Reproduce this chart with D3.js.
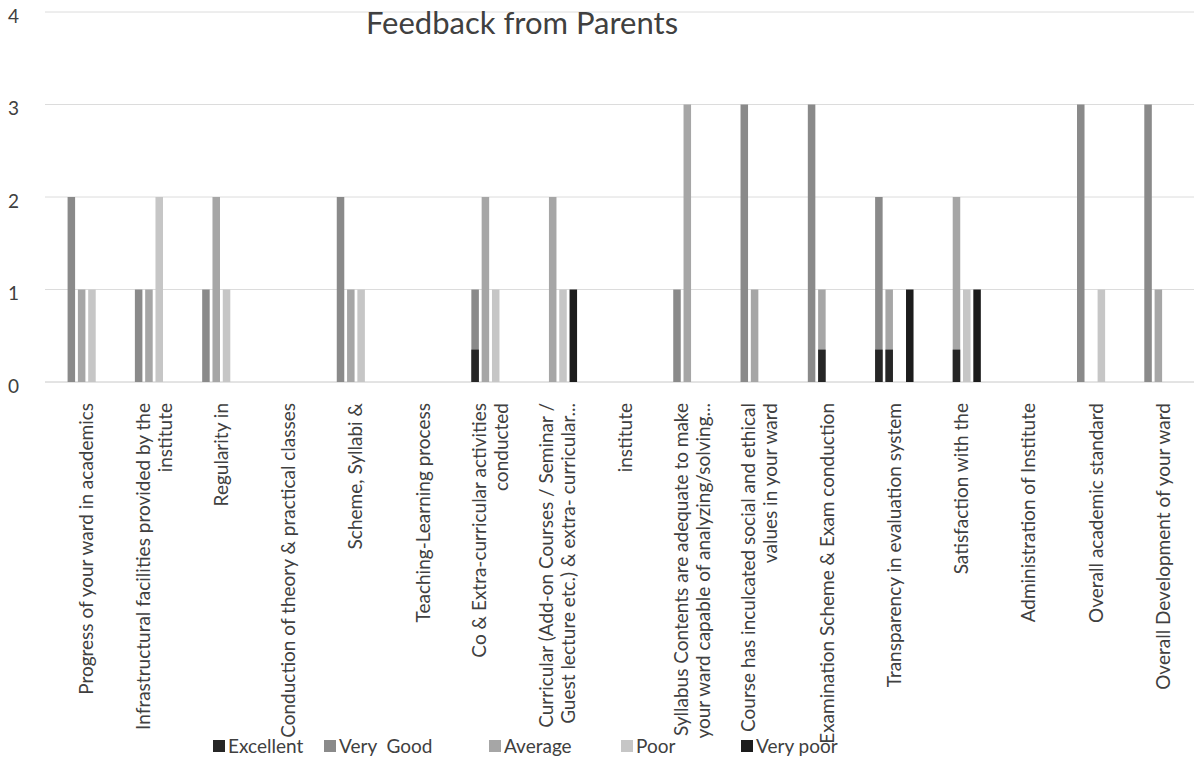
<!DOCTYPE html>
<html>
<head>
<meta charset="utf-8">
<script src="https://cdn.jsdelivr.net/npm/d3@7"></script>
<style>
  html, body { margin: 0; padding: 0; background: #fff; }
  svg { display: block; font-family: Lato, "Noto Sans", sans-serif; }
</style>
</head>
<body>
<svg id="chart" width="1194" height="763"></svg>
<script>
// ---- data ----
const title = "Feedback from Parents";
const categories = [
  ["Progress of your ward in academics"],
  ["Infrastructural facilities provided by the", "institute"],
  ["Regularity in"],
  ["Conduction of theory & practical classes"],
  ["Scheme, Syllabi &"],
  ["Teaching-Learning process"],
  ["Co & Extra-curricular activities", "conducted"],
  ["Curricular (Add-on Courses / Seminar /", "Guest lecture etc.) & extra- curricular..."],
  ["institute"],
  ["Syllabus Contents are adequate to make", "your ward capable of analyzing/solving..."],
  ["Course has inculcated social and ethical", "values in your ward"],
  ["Examination Scheme & Exam conduction"],
  ["Transparency in evaluation system"],
  ["Satisfaction with the"],
  ["Administration of Institute"],
  ["Overall academic standard"],
  ["Overall Development of your ward"]
];
const seriesNames = ["Excellent", "Very  Good", "Average", "Poor", "Very poor"];
const excellent = [0,0,0,0,0,0,0,0,0,0,0,0,0,0,0,0,0];
const veryGood  = [2,1,1,0,2,0,1,0,0,1,3,3,2,0,0,3,3];
const average   = [1,1,2,0,1,0,2,2,0,3,1,1,1,2,0,0,1];
const poor      = [1,2,1,0,1,0,1,1,0,0,0,0,0,1,0,1,0];
const veryPoor  = [0,0,0,0,0,0,0,1,0,0,0,0,1,1,0,0,0];
// dark (Excellent-coloured) segments printed at the foot of some bars
const excellentOverVeryGood = [0,0,0,0,0,0,0.35,0,0,0,0,0,0.35,0,0,0,0];
const excellentOverAverage  = [0,0,0,0,0,0,0,0,0,0,0,0.35,0.35,0.35,0,0,0];
const yTicks = [0, 1, 2, 3, 4];
const colors = ["#262626", "#8a8a8a", "#a6a6a6", "#c6c6c6", "#1c1c1c"];

// ---- build ----
const seriesValues = [excellent, veryGood, average, poor, veryPoor];
const catKeys = categories.map(c => c.join(" "));
const svg = d3.select("#chart");

const x0 = d3.scaleBand().domain(catKeys).range([48, 1192])
  .paddingInner(0.276).paddingOuter(0.138);
const x1 = d3.scaleBand().domain(seriesNames).range([0, x0.bandwidth()])
  .paddingInner(0.27);
const y = d3.scaleLinear().domain([0, 4]).range([382, 12]);

// gridlines
svg.append("g").selectAll("line").data(yTicks).join("line")
  .attr("x1", 45).attr("x2", 1194)
  .attr("y1", d => y(d)).attr("y2", d => y(d))
  .attr("stroke", d => d === 0 ? "#c8c8c8" : "#dcdcdc").attr("stroke-width", 1);

// y axis labels
const yAxis = d3.axisLeft(y).tickValues(yTicks).tickFormat(d3.format("d"))
  .tickSize(0).tickPadding(0);
const gy = svg.append("g").attr("transform", "translate(19,4)").call(yAxis);
gy.select(".domain").remove();
gy.selectAll("text").attr("font-size", 19).attr("fill", "#404040")
  .attr("font-family", "Lato, 'Noto Sans', sans-serif");

// bars
const groups = svg.append("g").selectAll("g").data(catKeys).join("g")
  .attr("transform", d => `translate(${x0(d)},0)`);
groups.selectAll("rect").data((d, i) => seriesNames.map((s, j) => ({s, v: seriesValues[j][i]})))
  .join("rect")
  .filter(d => d.v > 0)
  .attr("x", d => x1(d.s)).attr("width", x1.bandwidth())
  .attr("y", d => y(d.v)).attr("height", d => y(0) - y(d.v))
  .attr("fill", (d) => colors[seriesNames.indexOf(d.s)]);

// dark foot segments
const overlays = [[excellentOverVeryGood, "Very  Good"], [excellentOverAverage, "Average"]];
overlays.forEach(([arr, s]) => {
  svg.append("g").selectAll("rect").data(catKeys.map((c, i) => ({c, v: arr[i]})).filter(d => d.v > 0))
    .join("rect")
    .attr("x", d => x0(d.c) + x1(s)).attr("width", x1.bandwidth())
    .attr("y", d => y(d.v)).attr("height", d => y(0) - y(d.v))
    .attr("fill", colors[0]);
});

// category labels
const lineH = 22;
const labels = svg.append("g").selectAll("text").data(categories).join("text")
  .attr("transform", (d, i) => `translate(${x0(catKeys[i]) + x0.bandwidth() / 2 + 5},403) rotate(-90)`)
  .attr("text-anchor", "end").attr("font-size", 19).attr("fill", "#404040");
labels.each(function(lines) {
  const t = d3.select(this);
  lines.forEach((ln, k) => {
    t.append("tspan").attr("x", 0)
      .attr("y", (k - (lines.length - 1) / 2) * lineH)
      .attr("dy", "0.35em").text(ln);
  });
});

// title
svg.append("text").attr("x", 522).attr("y", 34).attr("text-anchor", "middle")
  .attr("font-size", 31).attr("fill", "#404040").text(title);

// legend
const legendX = [213, 324, 489, 621, 741];
const lg = svg.append("g").selectAll("g").data(seriesNames).join("g")
  .attr("transform", (d, i) => `translate(${legendX[i]},746)`);
lg.append("rect").attr("x", 0).attr("y", -6).attr("width", 12).attr("height", 12)
  .attr("fill", (d, i) => colors[i]);
lg.append("text").attr("x", 15).attr("y", 0).attr("dy", "0.35em")
  .attr("font-size", 19).attr("fill", "#404040").style("white-space", "pre").text(d => d);
</script>
</body>
</html>
